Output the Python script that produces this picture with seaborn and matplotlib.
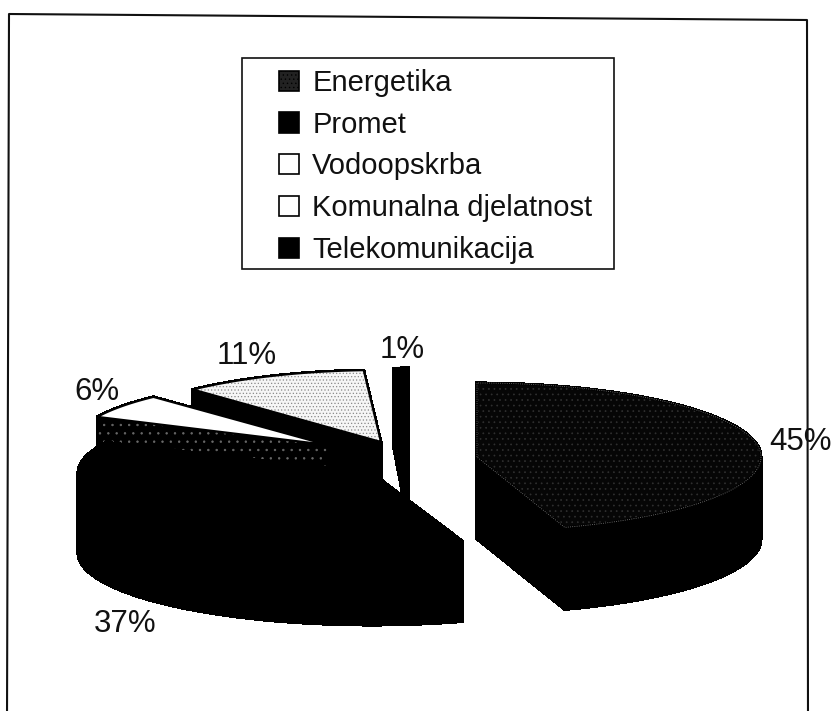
import numpy as np
import matplotlib
matplotlib.use("Agg")
import matplotlib.pyplot as plt
from matplotlib.patches import Patch, Rectangle
import seaborn as sns

# shares in legend order, slices run clockwise from 12 o'clock
categories = ["Energetika", "Promet", "Vodoopskrba", "Komunalna djelatnost", "Telekomunikacija"]
shares = [45, 37, 6, 11, 1]
labels = ["45%", "37%", "6%", "11%", "1%"]

# exploded slice apex and ellipse radii, in pixels
apex_x = [477, 372, 328, 381, 408]
apex_y = [457, 473, 445, 442, 443]
radius_x = [284, 294, 255, 275, 225]
radius_y = [74, 72, 66, 72, 75]
depth = [82, 80, 80, 80, 80]
label_x = [800, 125, 97, 247, 402]
label_y = [442, 624, 392, 356, 350]

top_colors = ["#060606", "#000000", "#ffffff", "#f6f6f6", "#000000"]
side_colors = ["#000000", "#000000", "#000000", "#000000", "#000000"]
top_hatch = ["...", None, None, ".....", None]
hatch_colors = ["#303030", "#000000", "#000000", "#8a8a8a", "#000000"]
swatch_colors = ["#222222", "#000000", "#ffffff", "#ffffff", "#000000"]
swatch_hatch = ["....", None, None, None, None]

sns.set_theme(style="white")
plt.rcParams["font.family"] = ["Liberation Sans", "DejaVu Sans"]
plt.rcParams["hatch.linewidth"] = 0.5

fig = plt.figure(figsize=(8.31, 7.11), dpi=100)
ax = fig.add_axes([0, 0, 1, 1])
ax.set_xlim(0, 831)
ax.set_ylim(711, 0)
ax.axis("off")

# chart frame (the scan is slightly rotated) and legend box
ax.plot([7, 9, 807, 808], [720, 14, 20, 720], color="#111111", lw=1.5, zorder=1)
ax.add_patch(Rectangle((242, 58), 372, 211, fill=False, edgecolor="#111111", lw=1.2, zorder=1))

edges = np.cumsum([0] + shares) / sum(shares) * 2 * np.pi


def draw_slice(i):
    t = np.linspace(edges[i], edges[i + 1], 120)
    rim_x = apex_x[i] + radius_x[i] * np.sin(t)
    rim_y = apex_y[i] - radius_y[i] * np.cos(t)
    top_x = np.r_[apex_x[i], rim_x]
    top_y = np.r_[apex_y[i], rim_y]
    z = 10 + draw_order.index(i) * 2
    # extrude every outline segment downward for the side walls
    n = len(top_x)
    for a in range(n):
        b = (a + 1) % n
        wall_x = [top_x[a], top_x[b], top_x[b], top_x[a]]
        wall_y = [top_y[a], top_y[b], top_y[b] + depth[i], top_y[a] + depth[i]]
        ax.fill(wall_x, wall_y, facecolor=side_colors[i], edgecolor=side_colors[i],
                lw=1.5, antialiased=False, zorder=z)
    # the 6% slice shows a speckled cut face
    if i == 2:
        ax.fill([top_x[1], top_x[0], top_x[0], top_x[1]],
                [top_y[1], top_y[0], top_y[0] + depth[i], top_y[1] + depth[i]],
                facecolor="none", edgecolor="#6a6a6a", hatch="..", lw=0, zorder=z + 0.5)
    ax.fill(top_x, top_y, facecolor=top_colors[i], edgecolor="none", zorder=z + 1)
    if top_hatch[i]:
        ax.fill(top_x, top_y, facecolor="none", edgecolor=hatch_colors[i], hatch=top_hatch[i], lw=0, zorder=z + 1)
    ax.plot(np.r_[top_x, top_x[0]], np.r_[top_y, top_y[0]], color="#000000", lw=1.6, zorder=z + 1)
    if i == 0:
        # faint speckled edge around the top of the big slice
        ax.plot(np.r_[top_x, top_x[0]], np.r_[top_y, top_y[0]], color="#808080", lw=0.6, ls=":", zorder=z + 1)


# back slices first so the front ones cover them
draw_order = [4, 3, 2, 0, 1]
for i in draw_order:
    draw_slice(i)

for i in range(len(labels)):
    ax.text(label_x[i], label_y[i], labels[i], fontsize=22.5, color="#111111",
            ha="center", va="center", zorder=30)

handles = [Patch(facecolor=swatch_colors[i], edgecolor="#000000", hatch=swatch_hatch[i], lw=1.2)
           for i in range(len(categories))]
leg = ax.legend(handles, categories, loc="upper left", bbox_to_anchor=(279 / 831, 1 - 69 / 711),
                fontsize=21, frameon=False, handlelength=0.69, handleheight=0.69,
                handletextpad=0.45, labelspacing=0.47, borderpad=0, borderaxespad=0,
                labelcolor="#111111")
leg.set_zorder(40)

fig.savefig("out.png", dpi=100)
